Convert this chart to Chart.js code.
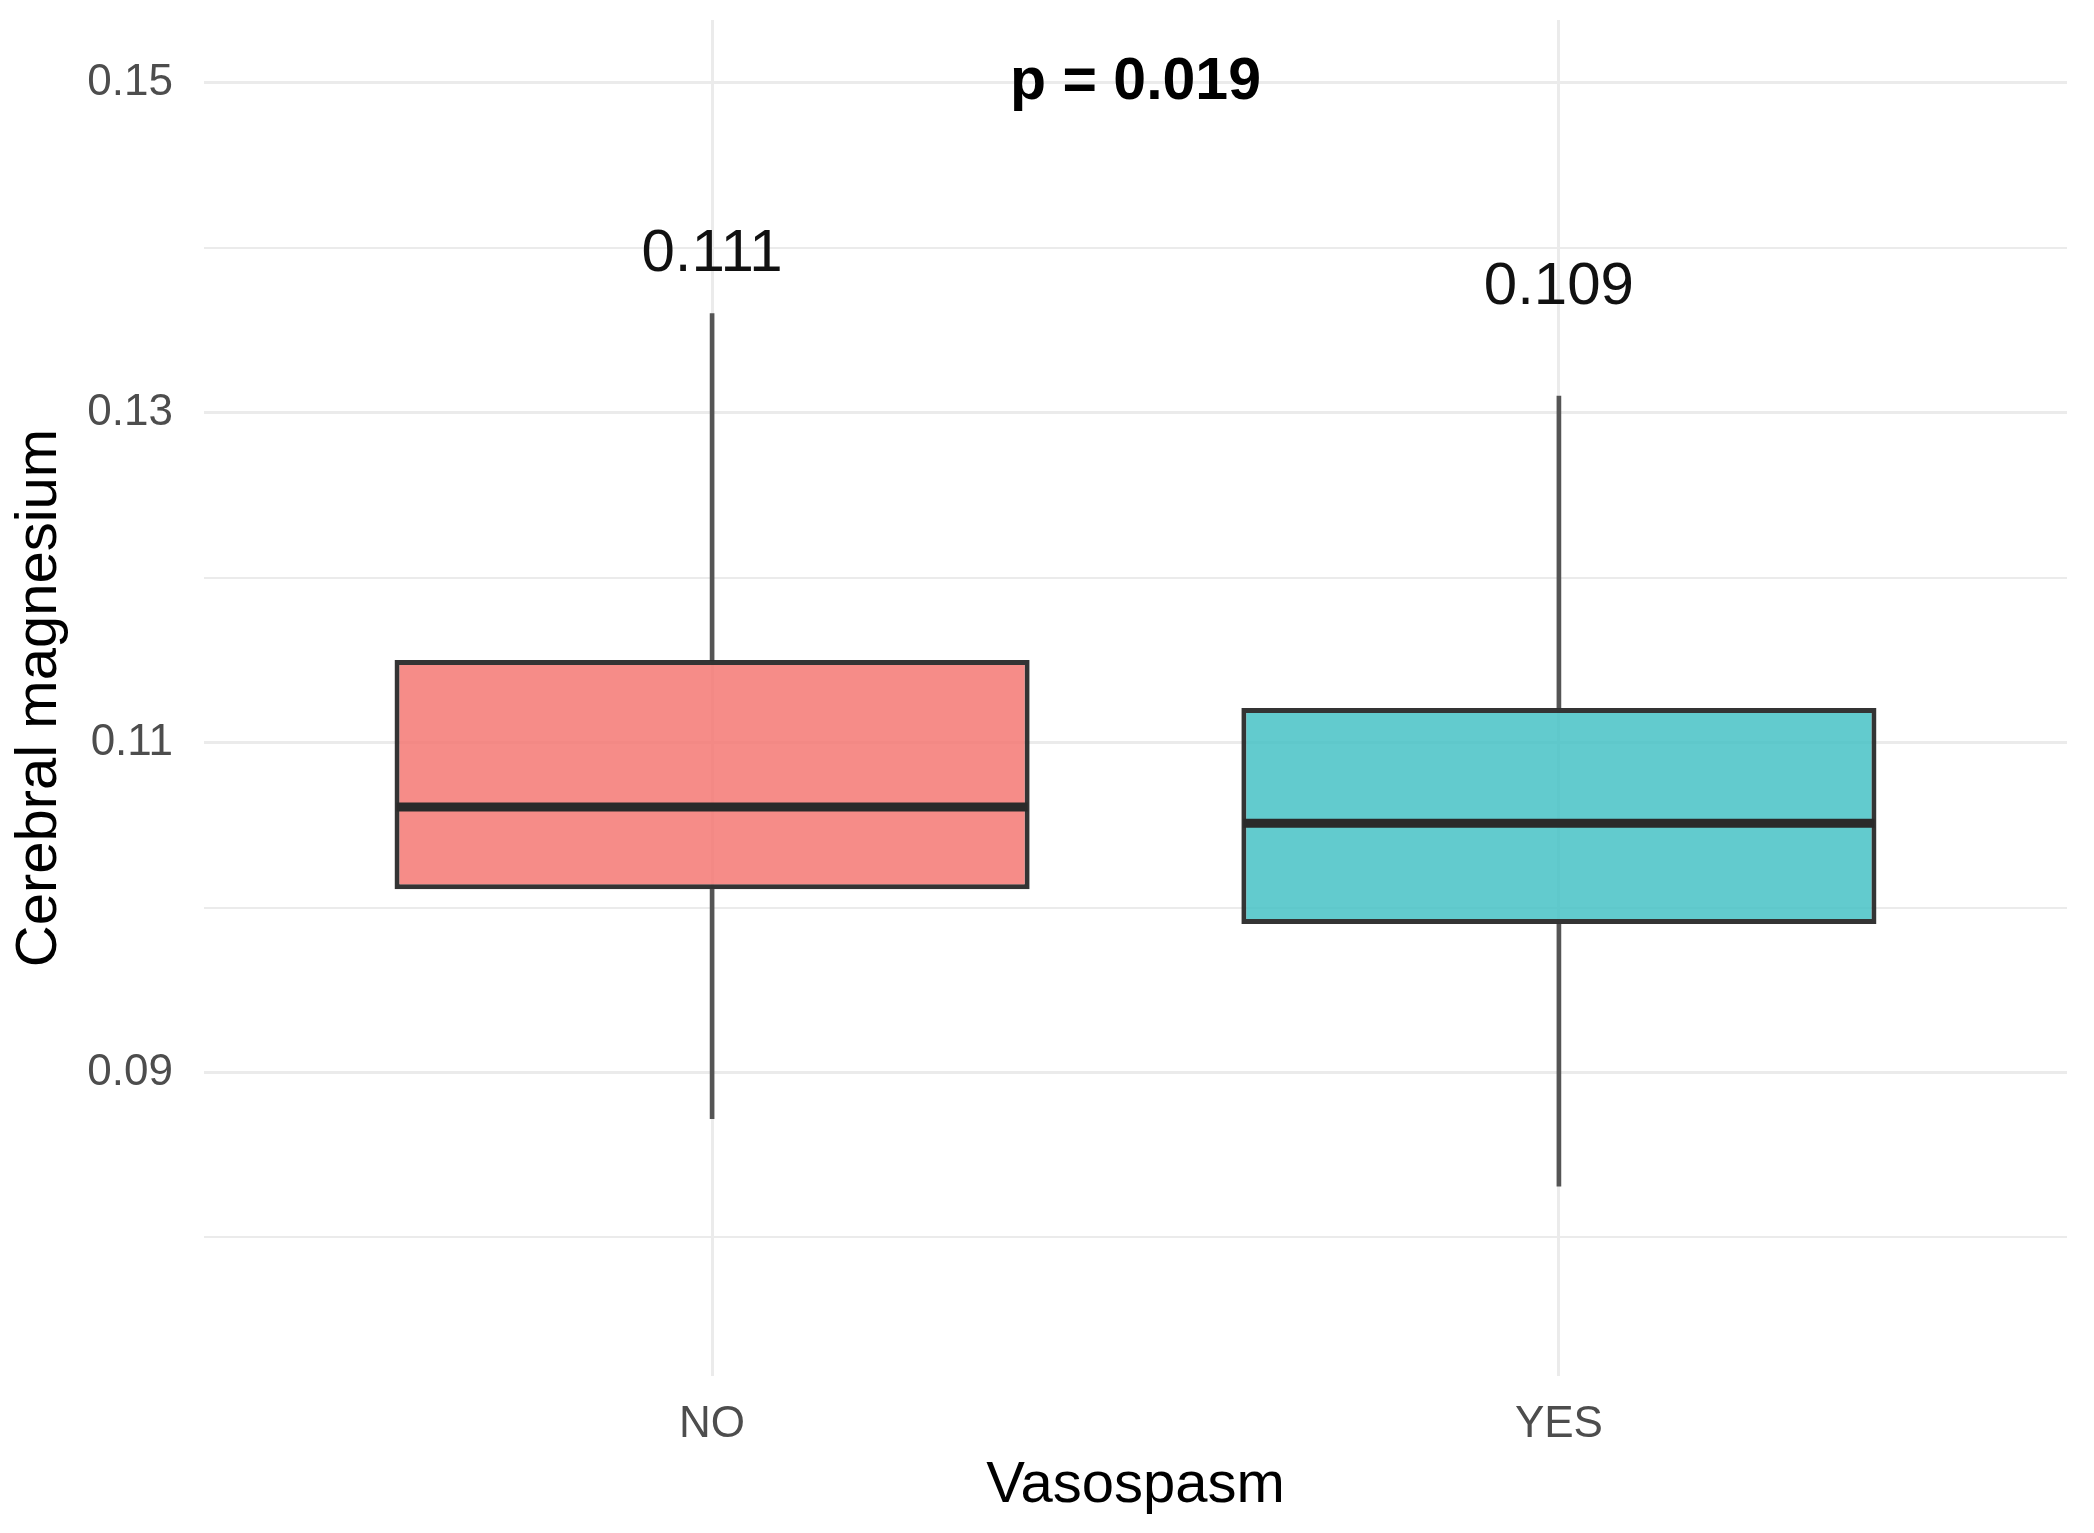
<!DOCTYPE html>
<html lang="en">
<head>
<meta charset="UTF-8">
<title>Cerebral magnesium by vasospasm</title>
<script src="https://cdn.jsdelivr.net/npm/chart.js"></script>
<style>
  html, body { margin: 0; padding: 0; background: #fff; }
  #wrap { width: 2094px; height: 1533px; }
</style>
</head>
<body>
<div id="wrap"><canvas id="box" width="2094" height="1533"></canvas></div>
<script>
// box stats
var groups = ['NO', 'YES'];
var whiskerLow = [0.0872, 0.0831];
var q1 = [0.1011, 0.0990];
var medians = [0.1061, 0.1051];
var q3 = [0.1150, 0.1121];
var whiskerHigh = [0.1360, 0.1310];
var means = [0.111, 0.109];
var pText = 'p = 0.019';
var yTickLabels = ['0.09', '0.11', '0.13', '0.15'];

// axis limits (ggplot expanded range) and label lift above the mean
var Y_MIN = 0.0716, Y_MAX = 0.1538;
var MEAN_LIFT = 0.0286;

var fills = ['rgba(245,120,115,0.85)', 'rgba(70,194,198,0.85)'];
var FONT = '"Liberation Sans", Arial, sans-serif';

Chart.defaults.font.family = FONT;

function isMajor(v) {
  return yTickLabels.indexOf(Number(v).toFixed(2)) >= 0;
}

// median bars, mean labels and p value, all placed through the scales
var boxExtras = {
  id: 'boxExtras',
  afterDatasetsDraw: function(chart) {
    var ctx = chart.ctx, xs = chart.scales.x, ys = chart.scales.y;
    var boxes = chart.getDatasetMeta(0).data;
    ctx.save();
    ctx.strokeStyle = '#2a2a2a';
    ctx.lineWidth = 9;
    boxes.forEach(function(bar, i) {
      var y = ys.getPixelForValue(medians[i]);
      ctx.beginPath();
      ctx.moveTo(bar.x - bar.width / 2 + 2, y);
      ctx.lineTo(bar.x + bar.width / 2 - 2, y);
      ctx.stroke();
    });
    ctx.fillStyle = '#111';
    ctx.textAlign = 'center';
    ctx.textBaseline = 'middle';
    ctx.font = '60px ' + FONT;
    means.forEach(function(m, i) {
      ctx.fillText(m.toFixed(3), xs.getPixelForValue(i + 1), ys.getPixelForValue(m + MEAN_LIFT));
    });
    ctx.fillStyle = '#000';
    ctx.font = 'bold 59px ' + FONT;
    var top = parseFloat(yTickLabels[yTickLabels.length - 1]);
    ctx.fillText(pText, xs.getPixelForValue((1 + groups.length) / 2), ys.getPixelForValue(top));
    ctx.restore();
  }
};

var ctx = document.getElementById('box').getContext('2d');
new Chart(ctx, {
  type: 'bar',
  data: {
    datasets: [
      {
        label: 'box',
        data: groups.map(function(g, i) { return { x: i + 1, y: [q1[i], q3[i]] }; }),
        backgroundColor: fills,
        borderColor: 'rgba(35,35,35,0.92)',
        borderWidth: 5,
        borderSkipped: false,
        categoryPercentage: 1,
        barPercentage: 0.75,
        grouped: false
      },
      {
        label: 'lower whisker',
        data: groups.map(function(g, i) { return { x: i + 1, y: [whiskerLow[i], q1[i]] }; }),
        backgroundColor: '#555555',
        borderWidth: 0,
        barThickness: 4,
        grouped: false
      },
      {
        label: 'upper whisker',
        data: groups.map(function(g, i) { return { x: i + 1, y: [q3[i], whiskerHigh[i]] }; }),
        backgroundColor: '#555555',
        borderWidth: 0,
        barThickness: 4,
        grouped: false
      }
    ]
  },
  options: {
    responsive: false,
    animation: false,
    devicePixelRatio: 1,
    layout: { padding: { top: 20, right: 27, bottom: 0, left: 0 } },
    plugins: { legend: { display: false }, tooltip: { enabled: false } },
    scales: {
      x: {
        type: 'linear',
        min: 0.4,
        max: 2.6,
        offset: false,
        afterFit: function(s) {
          s.height = 157;
          s.paddingLeft = 0;
          s.paddingRight = 0;
        },
        border: { display: false },
        grid: { color: '#EBEBEB', lineWidth: 3, drawTicks: false, offset: false },
        ticks: {
          stepSize: 1,
          includeBounds: false,
          autoSkip: false,
          maxRotation: 0,
          padding: 22,
          color: '#4D4D4D',
          font: { size: 44 },
          callback: function(v) {
            var r = Math.round(v);
            return Math.abs(v - r) < 1e-6 && groups[r - 1] ? groups[r - 1] : '';
          }
        },
        title: {
          display: true,
          text: 'Vasospasm',
          color: '#000',
          font: { size: 58 },
          padding: { top: 0, bottom: 12 }
        }
      },
      y: {
        min: Y_MIN,
        max: Y_MAX,
        afterFit: function(s) {
          s.width = 204;
          s.paddingTop = 0;
          s.paddingBottom = 0;
        },
        border: { display: false },
        grid: {
          color: '#EBEBEB',
          drawTicks: false,
          lineWidth: function(c) { return c.tick && isMajor(c.tick.value) ? 3 : 2; }
        },
        ticks: {
          stepSize: 0.01,
          includeBounds: false,
          padding: 31,
          color: '#4D4D4D',
          font: { size: 44 },
          callback: function(v) { return isMajor(v) ? Number(v).toFixed(2) : ''; }
        },
        title: {
          display: true,
          text: 'Cerebral magnesium',
          color: '#000',
          font: { size: 58 },
          padding: { top: 5, bottom: 0 }
        }
      }
    }
  },
  plugins: [boxExtras]
});
</script>
</body>
</html>
